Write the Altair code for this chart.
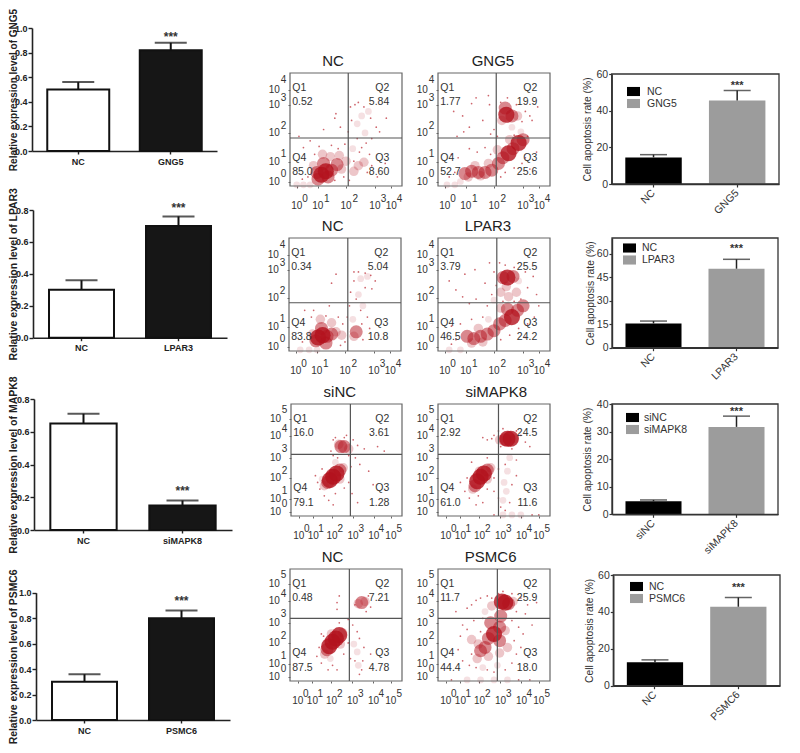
import altair as alt
import pandas as pd

FONT = "Liberation Sans"

# ---- expression bars (left column) ----
expr_genes = ["GNG5", "LPAR3", "MAPK8", "PSMC6"]
expr_cats = [["NC", "GNG5"], ["NC", "LPAR3"], ["NC", "siMAPK8"], ["NC", "PSMC6"]]
expr_vals = [[0.50, 0.82], [0.30, 0.70], [0.65, 0.15], [0.30, 0.80]]
expr_errs = [[0.56, 0.88], [0.36, 0.76], [0.71, 0.18], [0.36, 0.86]]
expr_tops = [1.0, 0.8, 0.8, 1.0]
expr_star = [0.95, 0.83, 0.255, 0.955]

# ---- apoptosis bars (right column) ----
apop_cats = [["NC", "GNG5"], ["NC", "LPAR3"], ["siNC", "siMAPK8"], ["NC", "PSMC6"]]
apop_vals = [[14.5, 45.5], [15.5, 50.4], [4.7, 31.7], [12.7, 42.8]]
apop_errs = [[16, 51], [17, 56.4], [5.2, 35.6], [14, 47.8]]
apop_tops = [60, 70, 40, 60]
apop_ticks = [[0, 20, 40, 60], [0, 15, 30, 45, 60], [0, 10, 20, 30, 40], [0, 20, 40, 60]]
apop_star = [54.5, 64, 37.9, 54]

# ---- flow plots: quadrant percentages, titles, gates ----
flow_titles = [["NC", "GNG5"], ["NC", "LPAR3"], ["siNC", "siMAPK8"], ["NC", "PSMC6"]]
flow_q = [[["0.52", "5.84", "8.60", "85.0"], ["1.77", "19.9", "25.6", "52.7"]],
          [["0.34", "5.04", "10.8", "83.8"], ["3.79", "25.5", "24.2", "46.5"]],
          [["16.0", "3.61", "1.28", "79.1"], ["2.92", "24.5", "11.6", "61.0"]],
          [["0.48", "7.21", "4.78", "87.5"], ["11.7", "25.9", "18.0", "44.4"]]]
flow_gate_x = [[52, 52], [52.5, 52.5], [53.5, 54], [53, 53]]
flow_gate_y = [[42.5, 42.5], [42.7, 42.7], [55, 55], [56, 56]]

# scale marks for 4-decade and 5-decade plots (display units, frame = 0..100)
dec4_xbase = [6, 24.8, 50, 75.8, 90.4]
dec4_xexp = [13.4, 32.8, 58.2, 83.6, 97.9]
dec4_ybase = [3.6, 21.6, 46.9, 72, 85]
dec4_yexp = [11, 28.5, 53, 78, 93.4]
dec5_xbase = [7, 20, 37, 55.8, 74.5, 90]
dec5_xexp = [14.2, 27, 44.4, 63.3, 81.4, 97.6]
dec5_ybase = [3.6, 15.6, 33.5, 52, 71, 86.5]
dec5_yexp = [11, 22.5, 40, 59.6, 77.6, 94.3]

# event clouds, estimated by eye: (x, y, weight)
c_nc1 = [(28,10,4),(32,13,4),(37,14,3),(25,6,3),(24,12,3),(42,19,3),(30,20,3),(34,8,3),(46,15,2),(36,26,2),(21,18,2),
         (50,22,2),(44,27,2),(29,28,2),(61,18,2),(57,13,2),(66,21,2),(64,62,1),(60,55,1),(70,66,1),(56,33,1),(67,47,1),(12,1,1),(6,1,1),(18,1,1)]
c_gng5 = [(24,11,3),(30,13,3),(36,12,3),(42,12,3),(48,14,3),(27,8,2),(38,9,2),(33,18,2),(45,20,2),(54,20,3),(58,25,3),(63,29,4),(67,33,3),
          (72,38,4),(76,41,3),(61,63,4),(66,62,3),(71,62,2),(60,69,3),(57,58,2),(66,52,1),(74,48,1),(64,41,2),(8,1,1),(15,1,1),(20,4,1),(53,32,2)]
c_nc2 = [(26,12,4),(30,14,4),(24,9,3),(34,13,3),(38,15,3),(29,20,3),(33,7,3),(21,15,2),(42,17,2),(47,14,2),(28,28,2),(38,25,2),(60,17,3),(58,13,2),
         (57,28,1),(64,64,1),(70,66,1),(62,50,1),(66,40,1),(10,1,1),(18,1,1),(25,1,1)]
c_lp3 = [(26,13,3),(32,11,3),(38,13,3),(44,15,3),(50,18,3),(30,7,2),(40,8,2),(36,20,2),(55,24,3),(60,27,3),(66,30,4),(71,36,3),(76,40,3),(62,37,3),
         (56,38,2),(62,65,4),(58,65,3),(67,66,3),(61,57,2),(63,48,2),(70,52,2),(56,52,2),(72,62,1),(50,45,1),(45,28,1),(10,1,1),(20,1,1)]
c_sinc = [(35,32,4),(38,35,4),(41,38,4),(44,41,3),(33,30,3),(30,27,2),(47,43,2),(36,38,2),(44,33,2),(45,62,3),(48,62,3),(43,64,2),(52,60,2),(40,48,1),(28,33,1)]
c_simk = [(35,31,4),(38,35,4),(41,38,4),(44,41,3),(33,27,3),(31,24,2),(47,43,2),(37,40,2),(44,33,2),(62,69,4),(65,69,4),(60,68,3),(68,69,2),(55,68,2),
          (59,30,1),(61,22,1),(58,14,1),(62,40,1),(64,52,1),(58,1,1),(66,1,1),(74,1,1)]
c_nc4 = [(35,31,4),(38,35,4),(41,38,4),(44,41,4),(33,28,3),(31,24,2),(47,43,2),(37,42,2),(45,33,2),(36,20,1),(64,70,3),(61,69,2),(67,71,2),(57,33,1),(60,26,1),(61,14,1)]
c_psm = [(45,38,3),(50,42,4),(55,48,3),(42,30,3),(38,27,3),(36,33,2),(47,52,3),(55,36,3),(60,45,2),(35,20,2),(45,22,2),(30,37,2),(56,58,3),(55,25,2),
         (60,70,4),(57,71,4),(63,69,3),(67,71,2),(48,67,2),(42,62,1),(53,14,1),(40,12,1),(26,1,1),(38,1,1),(50,1,1),(62,1,1),(62,30,2)]

d_nc1 = [(8,44),(22,28),(41,64),(45,52),(12,34),(18,40),(54,70),(58,72),(61,74),(66,70),(72,60),(77,52),(80,48),(73,42),(68,38),(62,30),(60,42),(52,48),(49,37),
         (57,22),(73,18),(69,12),(78,8),(85,20),(16,8),(11,6),(40,5),(43,33),(26,35),(37,36),(48,8),(53,5),(40,60),(30,50),(86,60),(64,34),(71,28),(55,58)]
d_gng5 = [(14,66),(22,62),(30,73),(34,78),(45,80),(40,58),(17,44),(28,52),(46,72),(50,50),(56,74),(62,78),(70,72),(78,66),(82,62),(84,58),(75,57),(68,45),(80,44),
          (12,28),(18,25),(28,33),(35,30),(42,34),(47,28),(10,8),(15,12),(56,8),(60,12),(68,16),(75,20),(82,15),(88,30),(53,44),(47,46),(89,70),(78,25),(23,48)]
d_nc2 = [(42,68),(38,60),(36,40),(20,30),(14,36),(46,5),(52,30),(55,52),(58,62),(62,70),(68,69),(73,67),(77,62),(68,56),(60,46),(64,36),(70,30),(54,40),
         (12,8),(48,24),(66,10),(72,20),(80,14),(22,36),(33,31),(44,30),(50,8),(65,24),(74,55),(58,70)]
d_lp3 = [(10,62),(16,54),(24,68),(33,72),(42,60),(46,78),(50,70),(34,46),(28,42),(55,78),(60,76),(68,74),(78,70),(85,66),(80,56),(88,50),(74,46),(52,58),(48,50),
         (12,22),(20,24),(30,28),(40,30),(16,10),(12,6),(56,10),(64,14),(72,20),(80,24),(86,30),(68,44),(58,44),(44,40),(78,12),(90,40),(22,48)]
d_sinc = [(38,68),(36,58),(40,70),(50,72),(56,68),(60,63),(66,60),(78,62),(58,52),(62,46),(54,44),(70,40),(38,54),(42,52),(28,42),(26,24),(24,30),(30,18),(34,14),(40,20),
          (48,25),(52,30),(55,20),(74,28),(60,12),(22,36),(38,10),(52,54),(84,58),(48,70)]
d_simk = [(40,70),(44,68),(48,69),(50,72),(54,76),(56,62),(58,78),(70,76),(74,72),(78,66),(82,62),(66,60),(70,50),(60,46),(54,42),(50,34),(26,34),(24,22),(28,16),(36,18),
          (44,24),(50,22),(54,16),(56,8),(60,5),(66,28),(70,36),(64,12),(40,12),(34,10),(84,1),(90,1),(50,1),(30,48),(44,52),(20,30)]
d_nc4 = [(42,70),(44,76),(42,64),(58,68),(70,76),(72,66),(68,62),(52,55),(56,50),(60,44),(62,38),(66,30),(54,20),(64,10),(62,6),(58,18),(26,30),(24,22),(28,16),(38,14),
         (34,10),(42,10),(48,24),(52,34),(30,40),(65,18),(28,42),(44,52),(72,24)]
d_psm = [(26,65),(30,68),(34,72),(38,74),(44,76),(48,74),(54,78),(58,80),(66,78),(74,74),(80,68),(78,60),(70,62),(66,54),(72,48),(76,42),(68,36),(70,24),(66,16),(60,10),
         (50,8),(44,10),(34,12),(28,14),(22,18),(18,28),(20,40),(22,50),(26,46),(32,54),(30,24),(38,44),(40,56),(74,30),(12,1),(72,1),(82,1),(16,62),(84,50),(88,70)]

flow_clouds = [[c_nc1, c_gng5], [c_nc2, c_lp3], [c_sinc, c_simk], [c_nc4, c_psm]]
flow_dots = [[d_nc1, d_gng5], [d_nc2, d_lp3], [d_sinc, d_simk], [d_nc4, d_psm]]
flow_title_x = [[38.4, 49], [39, 44.6], [44, 52], [38, 47]]

# ---- page layout (px, page coordinates) ----
ROW_TOP = [8, 186, 370, 556]
ROW_H = [178, 184, 186, 169]
COL_X = [8, 268, 423, 570]
COL_W = [260, 155, 147, 220]
EXPR_BOX = [(32, 217, 28, 151), (33, 227, 210, 337.7), (34, 232, 399, 530), (36, 230, 592.7, 720)]
APOP_BOX = [(611.7, 779, 74, 184), (612, 778, 238, 347.7), (612, 778, 404, 514.3), (613.3, 780, 575, 685.7)]
FLOW_BOX = [[(290, 402, 73, 186), (438, 550, 73, 186)],
            [(289, 401, 238, 351), (438, 550, 238, 351)],
            [(291, 402, 404, 516), (438, 550, 404, 516)],
            [(290, 402, 569, 681), (438, 550, 569, 681)]]
EXPR_TITLE_FS = [10, 10.4, 10.5, 10.4]
APOP_TITLE_X = [582, 585, 582, 584]
LEG_POS = [(627, 85), (623, 241.5), (626, 411), (630, 580)]
LEG_LABEL_OFF = [7, 6, 5, 6]
# blob look for each event-cloud weight: (area, opacity)
BLOB = {1: (45, 0.13), 2: (90, 0.24), 3: (170, 0.5), 4: (260, 0.8)}


def rel(row, col, box):
    l, r, t, b = box
    return l - COL_X[col], r - COL_X[col], b - ROW_TOP[row], t - ROW_TOP[row]


def expr_panel(i):
    x0, x1, y0, y1 = rel(i, 0, EXPR_BOX[i])
    H = ROW_H[i]
    cats = expr_cats[i]
    df = pd.DataFrame({"c": cats, "v": expr_vals[i], "e": expr_errs[i]})
    xs = alt.Scale(domain=cats, range=[x0, x1], paddingInner=0.33, paddingOuter=0.165)
    ys = alt.Scale(domain=[0, expr_tops[i]], range=[y0, y1], nice=False)
    xax = alt.Axis(title=None, labelAngle=0, labelFont=FONT, labelFontWeight="bold", labelFontSize=9,
                   labelColor="#222", tickColor="#222", domainColor="#222", domainWidth=1.6, tickWidth=1.4,
                   tickSize=3, labelPadding=3, offset=y0 - H, grid=False)
    ticks = [round(k * 0.2, 1) for k in range(int(round(expr_tops[i] / 0.2)) + 1)]
    yax = alt.Axis(title=f"Relative expression level of {expr_genes[i]}", values=ticks, format=".1f",
                   labelFont=FONT, labelFontWeight="bold", labelFontSize=9, labelColor="#222",
                   tickColor="#222", domainColor="#222", domainWidth=1.6, tickWidth=1.4, tickSize=4, labelPadding=1,
                   titleFont=FONT, titleFontWeight="bold", titleFontSize=EXPR_TITLE_FS[i], titleColor="#222",
                   titleX=-x0, titleBaseline="top", offset=-x0, grid=False)
    X = alt.X("c:N", scale=xs, axis=xax, sort=cats)
    Y = alt.Y("v:Q", scale=ys, axis=yax)
    bars = alt.Chart(df).mark_bar(stroke="#111", strokeWidth=2).encode(
        x=X, y=Y, fill=alt.Fill("c:N", scale=alt.Scale(domain=cats, range=["#ffffff", "#161616"]), legend=None))
    err = alt.Chart(df).mark_rule(color="#111", strokeWidth=2).encode(x=X, y=Y, y2="e:Q")
    cap = alt.Chart(df).mark_tick(color="#111", thickness=2, size=32).encode(x=X, y=alt.Y("e:Q", scale=ys, axis=yax))
    star = alt.Chart(pd.DataFrame({"c": [cats[1]], "v": [expr_star[i]], "t": ["***"]})).mark_text(
        font=FONT, fontSize=12, fontWeight="bold", color="#333", dy=3).encode(x=X, y=Y, text="t:N")
    return alt.layer(bars, err, cap, star).properties(width=COL_W[0], height=H)


def apop_panel(i):
    x0, x1, y0, y1 = rel(i, 3, APOP_BOX[i])
    H = ROW_H[i]
    cats = apop_cats[i]
    df = pd.DataFrame({"c": cats, "v": apop_vals[i], "e": apop_errs[i]})
    xs = alt.Scale(domain=cats, range=[x0, x1], paddingInner=0.325, paddingOuter=0.1625)
    ys = alt.Scale(domain=[0, apop_tops[i]], range=[y0, y1], nice=False)
    xax = alt.Axis(title=None, labelAngle=315, labelAlign="right", labelBaseline="middle", labelFont=FONT,
                   labelFontSize=10.5, labelColor="#333", tickColor="#333", domainColor="#333", domainWidth=1.4,
                   tickWidth=1.2, tickSize=3, labelPadding=4, offset=y0 - H, grid=False)
    yax = alt.Axis(title="Cell apoptosis rate (%)", values=apop_ticks[i], labelFont=FONT, labelFontSize=10.5,
                   labelColor="#333", tickColor="#333", domainColor="#333", domainWidth=1.4, tickWidth=1.2,
                   tickSize=3, labelPadding=1, titleFont=FONT, titleFontWeight="normal", titleFontSize=10.3,
                   titleColor="#333", titleX=APOP_TITLE_X[i] - APOP_BOX[i][0], titleBaseline="top",
                   offset=-x0, grid=False)
    X = alt.X("c:N", scale=xs, axis=xax, sort=cats)
    Y = alt.Y("v:Q", scale=ys, axis=yax)
    lx, ly = LEG_POS[i]
    bars = alt.Chart(df).mark_bar().encode(
        x=X, y=Y,
        color=alt.Color("c:N", scale=alt.Scale(domain=cats, range=["#000000", "#9c9c9c"]),
                        legend=alt.Legend(orient="none", legendX=lx - COL_X[3], legendY=ly - ROW_TOP[i], title=None,
                                          symbolType="M-1,-0.7H1V0.7H-1Z", symbolSize=169, symbolStrokeWidth=0,
                                          labelFont=FONT, labelFontSize=10.5, labelColor="#333",
                                          labelOffset=LEG_LABEL_OFF[i], rowPadding=0, padding=0)))
    err = alt.Chart(df).mark_rule(color="#222", strokeWidth=1.5).encode(x=X, y=Y, y2="e:Q")
    cap = alt.Chart(df).mark_tick(color="#222", thickness=1.5, size=27).encode(x=X, y=alt.Y("e:Q", scale=ys, axis=yax))
    star = alt.Chart(pd.DataFrame({"c": [cats[1]], "v": [apop_star[i]], "t": ["***"]})).mark_text(
        font=FONT, fontSize=11, fontWeight="bold", color="#333", dy=2).encode(x=X, y=Y, text="t:N")
    frame = alt.Chart(pd.DataFrame({"a": [0], "b": [apop_tops[i]]})).mark_rect(
        fill=None, stroke="#333", strokeWidth=1.3).encode(
        x=alt.value(x0), x2=alt.value(x1), y=alt.Y("a:Q", scale=ys, axis=yax), y2="b:Q")
    return alt.layer(bars, err, cap, star, frame).properties(width=COL_W[3], height=H)


def flow_panel(i, j):
    col = j + 1
    x0, x1, y0, y1 = rel(i, col, FLOW_BOX[i][j])
    H = ROW_H[i]
    five = i >= 2
    xb, xe, yb, ye = (dec5_xbase, dec5_xexp, dec5_ybase, dec5_yexp) if five else (dec4_xbase, dec4_xexp, dec4_ybase, dec4_yexp)
    xs = alt.Scale(domain=[0, 100], range=[x0, x1], nice=False, zero=False)
    ys = alt.Scale(domain=[0, 100], range=[y0, y1], nice=False, zero=False)
    xax = alt.Axis(title=None, values=xb, labels=False, domain=False, tickSize=2, tickColor="#666", offset=y0 - H, grid=False)
    yax = alt.Axis(title=None, values=yb, labels=False, domain=False, tickSize=2, tickColor="#666", offset=-x0, grid=False)
    X = alt.X("x:Q", scale=xs, axis=xax)
    Y = alt.Y("y:Q", scale=ys, axis=yax)

    cl = pd.DataFrame(flow_clouds[i][j], columns=["x", "y", "w"])
    clouds = [alt.Chart(cl[cl.w == w]).mark_circle(color="#b3121d", size=BLOB[w][0], opacity=BLOB[w][1]).encode(x=X, y=Y)
              for w in (1, 2, 3, 4) if (cl.w == w).any()]
    dots = alt.Chart(pd.DataFrame(flow_dots[i][j], columns=["x", "y"])).mark_circle(
        color="#b3121d", size=3, opacity=0.65).encode(x=X, y=Y)

    frame = alt.Chart(pd.DataFrame({"x": [0], "xe": [100], "y": [0], "ye": [100]})).mark_rect(
        fill=None, stroke="#666", strokeWidth=1.2).encode(x=X, x2="xe:Q", y=Y, y2="ye:Q")
    gx = alt.Chart(pd.DataFrame({"x": [flow_gate_x[i][j]], "y": [0], "ye": [100]})).mark_rule(
        color="#555", strokeWidth=1.2).encode(x=X, y=Y, y2="ye:Q")
    gy = alt.Chart(pd.DataFrame({"x": [0], "xe": [100], "y": [flow_gate_y[i][j]]})).mark_rule(
        color="#555", strokeWidth=1.2).encode(x=X, x2="xe:Q", y=Y)

    q = flow_q[i][j]
    qdf = pd.DataFrame({
        "x": [2, 2, 88.6, 88.6, 88.6, 88.6, 2, 2],
        "y": [87, 74, 87, 74, 25, 12, 25, 12],
        "t": ["Q1", q[0], "Q2", q[1], "Q3", q[2], "Q4", q[3]],
        "a": ["l", "l", "r", "r", "r", "r", "l", "l"],
    })
    ql = alt.Chart(qdf[qdf.a == "l"]).mark_text(font=FONT, fontSize=10.5, color="#333", align="left").encode(x=X, y=Y, text="t:N")
    qr = alt.Chart(qdf[qdf.a == "r"]).mark_text(font=FONT, fontSize=10.5, color="#333", align="right").encode(x=X, y=Y, text="t:N")

    ttl = alt.Chart(pd.DataFrame({"x": [flow_title_x[i][j]], "y": [110.7], "t": [flow_titles[i][j]]})).mark_text(
        font=FONT, fontSize=15, color="#222").encode(x=X, y=Y, text="t:N")

    base_rows = [{"x": v, "y": -18, "t": "10"} for v in xb] + [{"x": -14, "y": v, "t": "10"} for v in yb]
    exp_rows = [{"x": v, "y": -11.6, "t": str(k)} for k, v in enumerate(xe)] + [{"x": -5.8, "y": v, "t": str(k)} for k, v in enumerate(ye)]
    base = alt.Chart(pd.DataFrame(base_rows)).mark_text(font=FONT, fontSize=10, color="#333").encode(x=X, y=Y, text="t:N")
    exps = alt.Chart(pd.DataFrame(exp_rows)).mark_text(font=FONT, fontSize=10, color="#333").encode(x=X, y=Y, text="t:N")
    return alt.layer(*clouds, dots, frame, gx, gy, ql, qr, ttl, base, exps).properties(width=COL_W[col], height=H)


panels = []
for i in range(4):
    panels.append(expr_panel(i))
    panels.append(flow_panel(i, 0))
    panels.append(flow_panel(i, 1))
    panels.append(apop_panel(i))

chart = (alt.concat(*panels, columns=4, spacing=0)
         .resolve_scale(fill="independent", color="independent")
         .properties(bounds="flush", padding=0)
         .configure_view(stroke=None))
chart.save("out.html", embed_options={"renderer": "svg", "actions": False})
